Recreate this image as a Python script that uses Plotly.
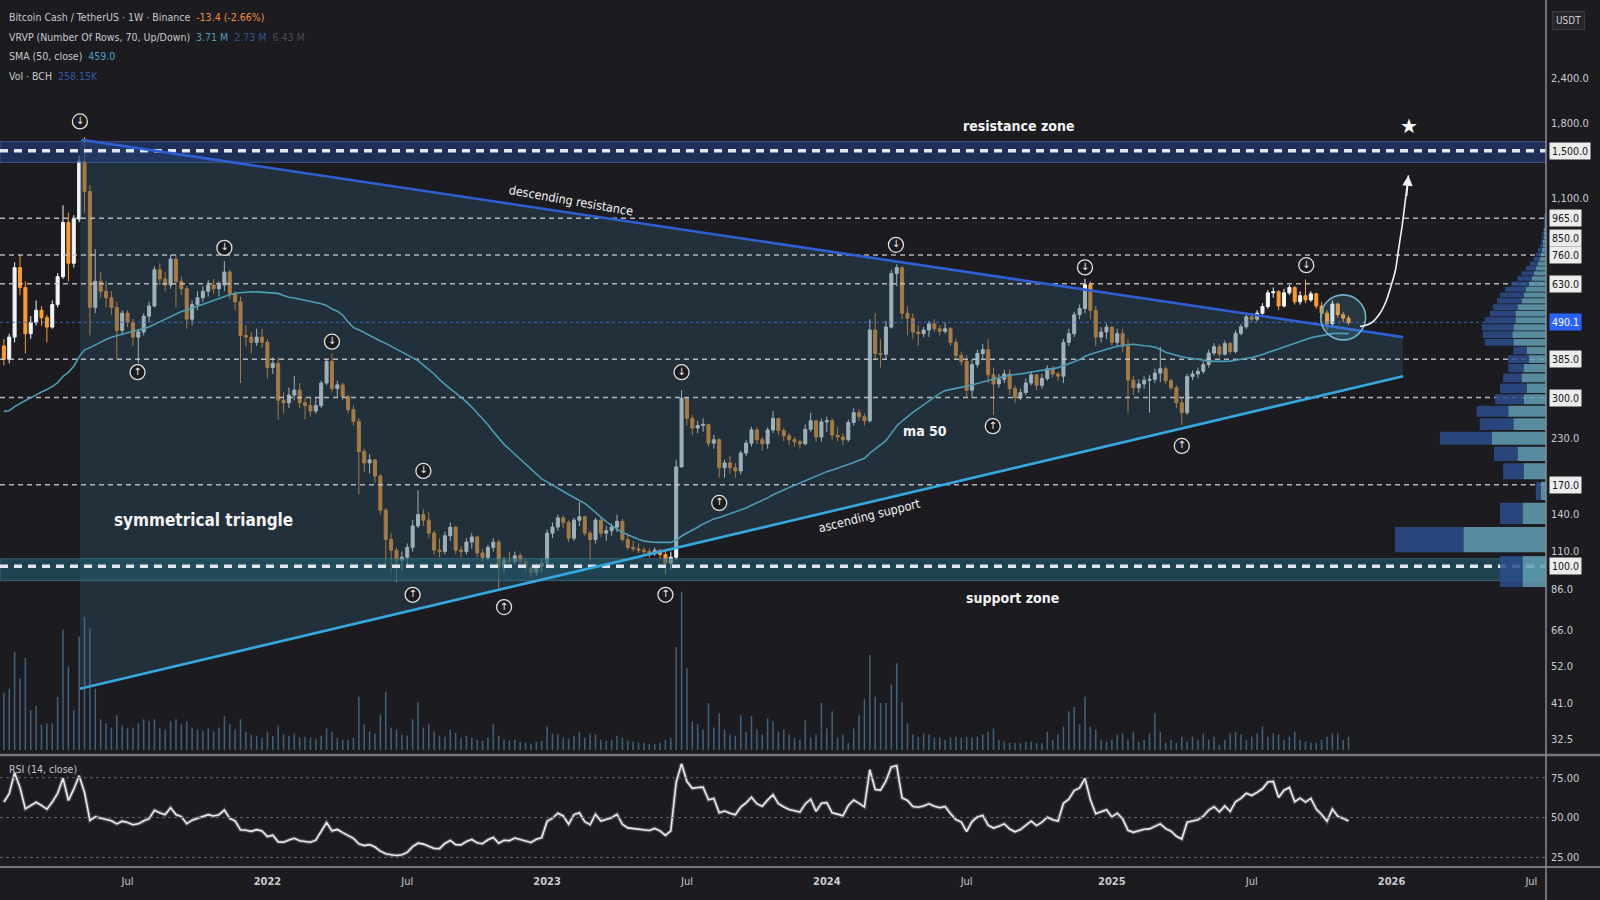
import numpy as np
import pandas as pd
import plotly.graph_objects as go

# BCH/USDT weekly candles, Binance.
# Weekly closes before the visible window: only used to warm up SMA(50) and RSI(14).
pre_close = [400, 440, 380, 330, 300, 200, 230, 220, 230, 230, 235, 240, 260, 250, 240, 230, 245,
             250, 240, 230, 220, 225, 230, 225, 260, 300, 295, 300, 285, 270, 225, 230, 225, 225,
             230, 245, 245, 265, 255, 250, 255, 275, 290, 275, 260, 325, 340, 350, 480, 510, 420]

first_week = '2021-01-25'

close = [
    # 2021
    385, 445, 700, 615, 455, 490, 530, 505, 475, 550, 660, 940, 720, 960, 1400, 1150, 540, 640, 600, 575,
    540, 465, 520, 490, 445, 460, 510, 545, 690, 650, 625, 740, 640, 610, 500, 550, 575, 600, 625, 610,
    625, 680, 590, 560, 450, 445, 430, 445, 430,
    # 2022
    365, 375, 295, 290, 305, 315, 290, 285, 275, 285, 330, 380,
    318, 326, 302, 277, 257, 211, 196, 200, 180, 144, 119, 111, 104, 106, 113, 130, 140, 135, 124, 111,
    110, 122, 129, 111, 110, 117, 121, 109, 106, 113, 117, 99, 104, 103, 107, 103, 99, 96, 100, 102,
    # 2023
    124, 129, 137, 133, 120, 135, 138, 124, 119, 135, 124, 126, 129, 134, 119, 113, 112, 111, 110, 109,
    111, 108, 102, 106, 191, 299, 262, 246, 250, 252, 223, 228, 190, 196, 190, 186, 209, 223, 243, 228,
    222, 243, 262, 242, 234, 228, 225, 222, 244, 258, 232, 256,
    # 2024
    258, 235, 232, 228, 255, 272, 265, 258, 466, 400, 398, 475, 674, 700, 520, 503, 460, 455, 466, 485,
    470, 462, 470, 430, 395, 380, 315, 372, 400, 410, 348, 328, 338, 350, 318, 300, 310, 330, 348, 325,
    340, 362, 350, 345, 430, 455, 515, 536, 626, 530, 445, 460, 475,
    # 2025
    430, 455, 420, 336, 320, 328, 336, 338, 352, 362, 335, 320, 290, 272, 344, 350, 356, 372, 401, 418,
    398, 427, 405, 456, 476, 508, 500, 520, 543, 594, 598, 545, 594, 615, 560, 583, 567, 590, 545, 520,
    486, 552, 515, 503.5, 490.1,
]

high = [
    440, 455, 725, 760, 640, 510, 565, 545, 515, 565, 675, 1050, 1000, 985, 1450, 1640, 1200, 790, 680, 640,
    600, 560, 530, 530, 500, 470, 520, 560, 705, 720, 680, 760, 760, 660, 620, 565, 600, 620, 645, 650,
    640, 730, 690, 600, 580, 480, 460, 470, 470,
    440, 390, 390, 310, 320, 345, 330, 300, 300, 300, 335, 385,
    400, 335, 330, 305, 285, 262, 215, 208, 200, 182, 146, 124, 113, 110, 116, 135, 164, 145, 142, 126,
    120, 125, 133, 130, 114, 120, 124, 122, 112, 115, 120, 119, 106, 110, 110, 109, 105, 101, 102, 105,
    127, 133, 140, 139, 135, 137, 152, 139, 126, 137, 138, 130, 132, 140, 136, 124, 118, 116, 113, 112,
    113, 112, 112, 110, 200, 315, 300, 268, 258, 262, 252, 235, 230, 200, 205, 196, 212, 228, 248, 248,
    232, 247, 275, 262, 246, 238, 232, 228, 252, 272, 260, 262,
    265, 262, 248, 238, 260, 280, 278, 270, 500, 520, 440, 495, 690, 715, 705, 545, 520, 480, 475, 495,
    500, 480, 490, 475, 440, 405, 395, 385, 410, 425, 440, 365, 350, 360, 360, 325, 318, 340, 355, 350,
    350, 370, 368, 355, 440, 470, 525, 550, 650, 640, 545, 475, 485,
    475, 470, 470, 440, 345, 338, 345, 348, 362, 418, 368, 340, 325, 300, 350, 358, 365, 380, 410, 428,
    425, 435, 432, 465, 485, 515, 520, 530, 555, 605, 615, 605, 610, 625, 620, 600, 648, 600, 595, 560,
    530, 565, 558, 525, 512,
]

low = [
    370, 375, 430, 585, 400, 440, 480, 480, 430, 470, 540, 650, 640, 700, 940, 1000, 450, 520, 575, 540,
    515, 385, 450, 475, 420, 375, 450, 490, 540, 625, 600, 610, 540, 585, 470, 480, 530, 560, 580, 590,
    580, 600, 570, 530, 330, 420, 400, 420, 415,
    340, 350, 260, 270, 280, 295, 280, 260, 265, 270, 280, 325,
    310, 300, 295, 270, 250, 160, 185, 183, 172, 140, 100, 96, 90, 97, 100, 110, 128, 130, 120, 108,
    106, 108, 118, 108, 106, 108, 112, 106, 103, 104, 110, 86, 96, 100, 101, 100, 96, 93, 94, 96,
    100, 120, 126, 128, 117, 118, 130, 122, 104, 116, 121, 118, 122, 125, 117, 111, 110, 109, 107, 106,
    107, 105, 95, 98, 104, 190, 250, 235, 238, 240, 218, 215, 178, 178, 183, 178, 182, 205, 218, 222,
    212, 215, 238, 235, 226, 220, 218, 215, 220, 240, 225, 225,
    240, 228, 226, 220, 225, 250, 258, 250, 255, 385, 365, 385, 470, 620, 500, 450, 440, 420, 445, 445,
    460, 450, 455, 420, 385, 370, 300, 300, 365, 385, 330, 268, 320, 330, 305, 290, 295, 305, 325, 315,
    318, 335, 342, 335, 330, 420, 445, 500, 520, 500, 420, 430, 440,
    420, 420, 405, 272, 305, 310, 318, 272, 330, 332, 328, 315, 280, 251, 268, 336, 340, 350, 365, 395,
    390, 395, 398, 400, 450, 470, 490, 492, 515, 535, 575, 530, 540, 585, 550, 550, 555, 560, 535, 505,
    465, 478, 505, 490, 482,
]

# weekly volume, thousands of BCH
volume_k = [
    1120, 1200, 1920, 1400, 1800, 780, 860, 500, 520, 520, 1040, 2360, 1640, 780, 2220, 2600, 2380, 1200, 600, 520, 440,
    680, 480, 420, 440, 520, 600, 560, 600, 440, 400, 560, 600, 500, 560, 440, 400, 380, 420, 360, 440, 660, 500, 400,
    600, 360, 300, 280, 240,
    360, 280, 480, 300, 280, 320, 240, 260, 240, 220, 280, 420,
    360, 240, 200, 200, 240, 1040, 500, 360, 320, 700, 1140, 440, 400, 300, 280, 600, 940, 440, 500, 360,
    280, 260, 400, 340, 240, 280, 240, 200, 180, 240, 500, 280, 200, 180, 200, 160, 140, 120, 160, 180,
    460, 320, 300, 240, 220, 280, 360, 240, 320, 300, 200, 180, 200, 280, 240, 180, 160, 140, 140, 120, 120, 140, 200, 240,
    2020, 3100, 1600, 560, 500, 400, 920, 440, 720, 400, 300, 280, 680, 360, 660, 400, 300, 620, 560, 360,
    400, 300, 240, 200, 580, 240, 300, 920, 420, 760, 240, 300, 140, 420, 680, 1000,
    1860, 1040, 920, 920, 1280, 1700, 940, 520, 300, 260, 320, 300, 240, 240, 200, 240, 260, 240,
    260, 240, 260, 300, 360, 420, 200, 160, 140, 140, 140, 160, 160, 140, 140, 360, 200, 300, 460, 760, 840, 500,
    1040, 460, 400, 200, 160,
    200, 300, 320, 200, 360, 160, 200, 320, 720, 360, 140, 200, 140, 260, 160, 260, 200, 320, 200, 260,
    100, 200, 320, 360, 300, 200, 260, 320, 460, 260, 320, 300, 200, 260, 360, 200, 160, 140, 140, 200,
    260, 320, 320, 200, 258.15,
]

# visible range volume profile: 70 rows from 86 to 1640 (rows above these are empty)
vp_low, vp_high, vp_rows = 86.0, 1640.0, 70
vp_up = [575, 2025, 575, 125, 550, 700, 1325, 800, 925, 550, 475, 600, 550, 425, 475, 800, 825, 800, 750, 750,
         700, 600, 550, 500, 425, 350, 300, 250, 200, 150, 125, 100, 75, 75, 50, 50, 50, 25, 25, 25, 25]
vp_down = [550, 1675, 550, 125, 500, 575, 1275, 825, 775, 700, 650, 450, 375, 500, 325, 700, 725, 775, 750, 625,
           600, 600, 575, 500, 425, 350, 300, 250, 200, 150, 125, 100, 75, 50, 50, 50, 25, 25, 25, 25, 25]

# drawings on the chart
tri_x = ['2021-05-04', '2026-01-20', '2026-01-20', '2021-05-04']
tri_y = [1610, 445, 345, 45]
desc_x, desc_y = ['2021-05-06', '2026-01-20'], [1610, 445]
asc_x, asc_y = ['2021-05-04', '2026-01-20'], [45, 345]
res_zone, sup_zone = (1390, 1590), (91, 105)
zone_levels = [1500, 100]
levels = [965, 760, 630, 385, 300, 170]
last_price = 490.1

top_x = ['2021-05-04', '2021-11-08', '2022-03-28', '2022-07-25', '2023-06-26', '2024-03-31', '2024-12-02', '2025-09-16']
top_y = [1815, 796, 432, 186, 354, 812, 701, 711]
bot_x = ['2021-07-18', '2022-07-11', '2022-11-07', '2023-06-05', '2023-08-14', '2024-08-04', '2025-04-07']
bot_y = [354, 83, 76.6, 83, 151, 249, 219]

curve_x = ['2025-11-25', '2025-12-09', '2025-12-21', '2025-12-29', '2026-01-04',
           '2026-01-10', '2026-01-14', '2026-01-19', '2026-01-23', '2026-01-27']
curve_y = [477, 487, 520, 563, 618, 688, 786, 927, 1088, 1276]
ring_x, ring_y = '2025-11-03', 506

x_left, x_right = '2021-01-20', '2026-07-25'
tick_dates = ['2021-07-05', '2022-01-03', '2022-07-04', '2023-01-02', '2023-07-03', '2024-01-01',
              '2024-07-01', '2025-01-06', '2025-07-07', '2026-01-05', '2026-07-06']
tick_text = ['Jul', '<b>2022</b>', 'Jul', '<b>2023</b>', 'Jul', '<b>2024</b>', 'Jul', '<b>2025</b>',
             'Jul', '<b>2026</b>', 'Jul']
price_ticks = [2400, 1800, 1100, 230, 140, 110, 86, 66, 52, 41, 32.5]
boxed_ticks = [1500, 965, 850, 760, 630, 385, 300, 170, 100]

assert len(close) == len(high) == len(low) == len(volume_k) == 251

BG = '#1b1b20'
UP, DOWN = '#f0f8fa', '#ff9a2e'
NARROW = 'Liberation Sans Narrow, DejaVu Sans Condensed, Arial, sans-serif'
BOLD = 'Liberation Sans Narrow, DejaVu Sans Condensed, sans-serif'

dates = pd.date_range(first_week, periods=len(close), freq='7D')
allc = pd.Series(pre_close + close, dtype=float)
n0 = len(pre_close)
o = allc.shift(1).iloc[n0:].to_numpy()
c = np.array(close, dtype=float)
h = np.maximum.reduce([np.array(high, float), o, c])
l = np.minimum.reduce([np.array(low, float), o, c])
sma = allc.rolling(50).mean().iloc[n0:].to_numpy()
d = allc.diff()
ag = d.clip(lower=0).ewm(alpha=1 / 14, adjust=False).mean()
al = (-d).clip(lower=0).ewm(alpha=1 / 14, adjust=False).mean()
rsi = (100 - 100 / (1 + ag / al)).iloc[n0:].to_numpy()

fig = go.Figure()


def band(lo, hi, fill, line):
    fig.add_trace(go.Scatter(x=[x_left, x_right, x_right, x_left, x_left], y=[lo, lo, hi, hi, lo],
                             fill='toself', fillcolor=fill, mode='lines', line=dict(color=line, width=1),
                             hoverinfo='skip'))


def hline(v, color, width, dash):
    fig.add_trace(go.Scatter(x=[x_left, x_right], y=[v, v], mode='lines',
                             line=dict(color=color, width=width, dash=dash), hoverinfo='skip'))


# triangle body
fig.add_trace(go.Scatter(x=tri_x + tri_x[:1], y=tri_y + tri_y[:1], fill='toself',
                         fillcolor='rgba(42,78,96,0.42)', mode='lines', line=dict(width=0), hoverinfo='skip'))
band(*res_zone, 'rgba(34,62,122,0.62)', 'rgba(80,110,170,0.7)')
band(*sup_zone, 'rgba(34,92,112,0.62)', 'rgba(70,130,150,0.6)')
for v in levels:
    hline(v, 'rgba(205,205,210,0.85)', 1.5, '5px,4px')
hline(last_price, 'rgba(60,110,215,0.9)', 1, 'dot')
for v in zone_levels:
    hline(v, '#dfe6ee', 3.5, '8px,6px')

# volume
fig.add_trace(go.Bar(x=dates, y=volume_k, yaxis='y3', width=2 * 86400000,
                     marker=dict(color='rgba(80,120,152,0.75)', line=dict(width=0)), hoverinfo='skip'))

# volume profile rows
step = (vp_high - vp_low) / vp_rows
ux, uy, dx, dy = [], [], [], []
for k, (u, dn) in enumerate(zip(vp_up, vp_down)):
    lo = vp_low + k * step + 0.06 * step
    hi = vp_low + (k + 1) * step - 0.06 * step
    ux += [0, u, u, 0, 0, None]
    uy += [lo, lo, hi, hi, lo, None]
    dx += [u, u + dn, u + dn, u, u, None]
    dy += [lo, lo, hi, hi, lo, None]
fig.add_trace(go.Scatter(x=ux, y=uy, xaxis='x3', fill='toself', fillcolor='rgba(96,160,180,0.85)',
                         mode='lines', line=dict(width=0), hoverinfo='skip'))
fig.add_trace(go.Scatter(x=dx, y=dy, xaxis='x3', fill='toself', fillcolor='rgba(44,76,140,0.85)',
                         mode='lines', line=dict(width=0), hoverinfo='skip'))

fig.add_trace(go.Candlestick(x=dates, open=o, high=h, low=l, close=c, hoverinfo='skip',
                             increasing=dict(line=dict(color=UP, width=1), fillcolor=UP),
                             decreasing=dict(line=dict(color=DOWN, width=1), fillcolor=DOWN)))
fig.add_trace(go.Scatter(x=dates, y=sma, mode='lines', line=dict(color='#4b9db4', width=1.6), hoverinfo='skip'))

fig.add_trace(go.Scatter(x=desc_x, y=desc_y, mode='lines', line=dict(color='#2f5fd5', width=2.6), hoverinfo='skip'))
fig.add_trace(go.Scatter(x=asc_x, y=asc_y, mode='lines', line=dict(color='#36a8e0', width=2.6), hoverinfo='skip'))

# pivot markers: ring with a small arrow inside
for xs, ys, glyph in [(top_x, top_y, '↓'), (bot_x, bot_y, '↑')]:
    fig.add_trace(go.Scatter(x=xs, y=ys, mode='markers+text', text=[glyph] * len(xs), hoverinfo='skip',
                             textposition='middle center',
                             textfont=dict(size=10, color='#f2f2f2', family='DejaVu Sans'),
                             marker=dict(symbol='circle', size=15, color=BG, line=dict(color='#e2e2e2', width=1.3))))

fig.add_trace(go.Scatter(x=[ring_x], y=[ring_y], mode='markers', hoverinfo='skip',
                         marker=dict(symbol='circle', size=45, color='rgba(90,170,200,0.2)',
                                     line=dict(color='#6db3c9', width=1.6))))
fig.add_trace(go.Scatter(x=curve_x, y=curve_y, mode='lines', line=dict(color='#f2f2f2', width=1.6, shape='spline'),
                         hoverinfo='skip'))

# RSI
fig.add_trace(go.Scatter(x=dates, y=rsi, xaxis='x2', yaxis='y2', mode='lines',
                         line=dict(color='rgba(200,200,200,0.3)', width=4), hoverinfo='skip'))
fig.add_trace(go.Scatter(x=dates, y=rsi, xaxis='x2', yaxis='y2', mode='lines',
                         line=dict(color='#ececec', width=1.6), hoverinfo='skip'))

shapes = []
for v in [75, 50, 25]:
    shapes.append(dict(type='line', xref='paper', x0=0, x1=1, yref='y2', y0=v, y1=v,
                       line=dict(color='#64646c', width=1, dash='dot')))
shapes += [
    dict(type='line', xref='paper', x0=0, x1=1.035, yref='paper', y0=0.1292, y1=0.1292,
         line=dict(color='#76767c', width=2.5)),
    dict(type='line', xref='paper', x0=0, x1=1.035, yref='paper', y0=0, y1=0,
         line=dict(color='#76767c', width=2)),
    dict(type='line', xref='paper', x0=1, x1=1, yref='paper', y0=-0.04, y1=1,
         line=dict(color='#8c8c92', width=1.5)),
]

ann = []


def text(x, y, s, size, color='#f4f4f4', angle=0, xanchor='center', family=BOLD):
    ann.append(dict(xref='paper', yref='paper', x=x, y=y, text=s, showarrow=False, textangle=angle,
                    xanchor=xanchor, yanchor='middle', font=dict(size=size, color=color, family=family)))


text(0.6587, 0.8541, '<b>resistance zone</b>', 14)
text(0.3696, 0.7682, 'descending resistance', 12.5, angle=10)
text(0.5624, 0.4057, 'ascending support', 12.5, angle=-14)
text(0.598, 0.5033, '<b>ma 50</b>', 14)
text(0.1314, 0.3998, '<b>symmetrical triangle</b>', 17)
text(0.6547, 0.3103, '<b>support zone</b>', 14)
text(0.9115, 0.8541, '★', 20, color='#ffffff', family='DejaVu Sans')

legend = [
    'Bitcoin Cash / TetherUS · 1W · Binance  <span style="color:#f0913a">-13.4 (-2.66%)</span>',
    'VRVP (Number Of Rows, 70, Up/Down)  <span style="color:#4f9fb3">3.71 M</span>'
    '  <span style="color:#35548f">2.73 M</span>  <span style="color:#4c4c52">6.43 M</span>',
    'SMA (50, close)  <span style="color:#4aa0c8">459.0</span>',
    'Vol · BCH  <span style="color:#2f5aa0">258.15K</span>',
]
for i, s in enumerate(legend):
    text(0.0046, 0.98 - i * 0.0224, s, 10.5, color='#c8c8cc', xanchor='left', family=NARROW)
text(0.0046, 0.1126, 'RSI (14, close)', 10.5, color='#c8c8cc', xanchor='left', family=NARROW)

for v in boxed_ticks:
    ann.append(dict(xref='paper', x=1, xanchor='left', xshift=3, yref='y', y=np.log10(v),
                    text=f'{v:,.1f}', showarrow=False, bgcolor='#ececec', borderpad=2,
                    font=dict(color='#131313', size=10.5, family=NARROW)))
ann.append(dict(xref='paper', x=1, xanchor='left', xshift=3, yref='y', y=np.log10(last_price),
                text=f'{last_price:,.1f}', showarrow=False, bgcolor='#2962ff', borderpad=2,
                font=dict(color='#ffffff', size=10.5, family=NARROW)))
ann.append(dict(xref='paper', yref='paper', x=1, y=0.9765, xanchor='left', yanchor='middle', xshift=6,
                text='USDT', showarrow=False, bgcolor='#26262c', bordercolor='#3a3a40', borderpad=3,
                font=dict(color='#d0d0d0', size=10, family=NARROW)))
# arrow head of the projected move
ann.append(dict(xref='x', yref='y', x=curve_x[-1], y=np.log10(curve_y[-1]), ax=-2, ay=22, text='',
                showarrow=True, arrowhead=2, arrowsize=1.3, arrowwidth=1.6, arrowcolor='#f2f2f2', standoff=0))

axis_font = dict(size=11, color='#c9cbd1', family=NARROW)
fig.update_layout(
    width=1600, height=900, paper_bgcolor=BG, plot_bgcolor=BG, showlegend=False, hovermode=False,
    margin=dict(l=0, r=54, t=0, b=33), boxgap=0.2,
    xaxis=dict(type='date', range=[x_left, x_right], domain=[0, 1], anchor='y', showticklabels=False,
               showgrid=False, zeroline=False, rangeslider=dict(visible=False), fixedrange=True),
    xaxis2=dict(type='date', matches='x', anchor='y2', domain=[0, 1], showgrid=False, zeroline=False,
                tickvals=tick_dates, ticktext=tick_text, ticks='', tickfont=axis_font, ticklabelstandoff=6),
    xaxis3=dict(overlaying='x', anchor='y', range=[37875, 0], visible=False),
    yaxis=dict(type='log', range=[np.log10(29.6), np.log10(4004)], domain=[0.1315, 1], side='right',
               anchor='x', tickvals=price_ticks, ticktext=[f'{v:,.1f}' for v in price_ticks], ticks='',
               tickfont=axis_font, showgrid=False, zeroline=False, ticklabelstandoff=4),
    yaxis2=dict(range=[19, 88], domain=[0, 0.1269], side='right', anchor='x2', tickvals=[25, 50, 75],
                ticktext=['25.00', '50.00', '75.00'], ticks='', tickfont=axis_font, showgrid=False,
                zeroline=False, ticklabelstandoff=4),
    yaxis3=dict(overlaying='y', anchor='x', range=[-60, 14700], visible=False),
    shapes=shapes, annotations=ann,
)

# the page's default body margin would shift the chart; drop it
fig.write_html('out.html', config={'displayModeBar': False},
               post_script="document.body.style.margin='0';document.body.style.background='#1b1b20';")
